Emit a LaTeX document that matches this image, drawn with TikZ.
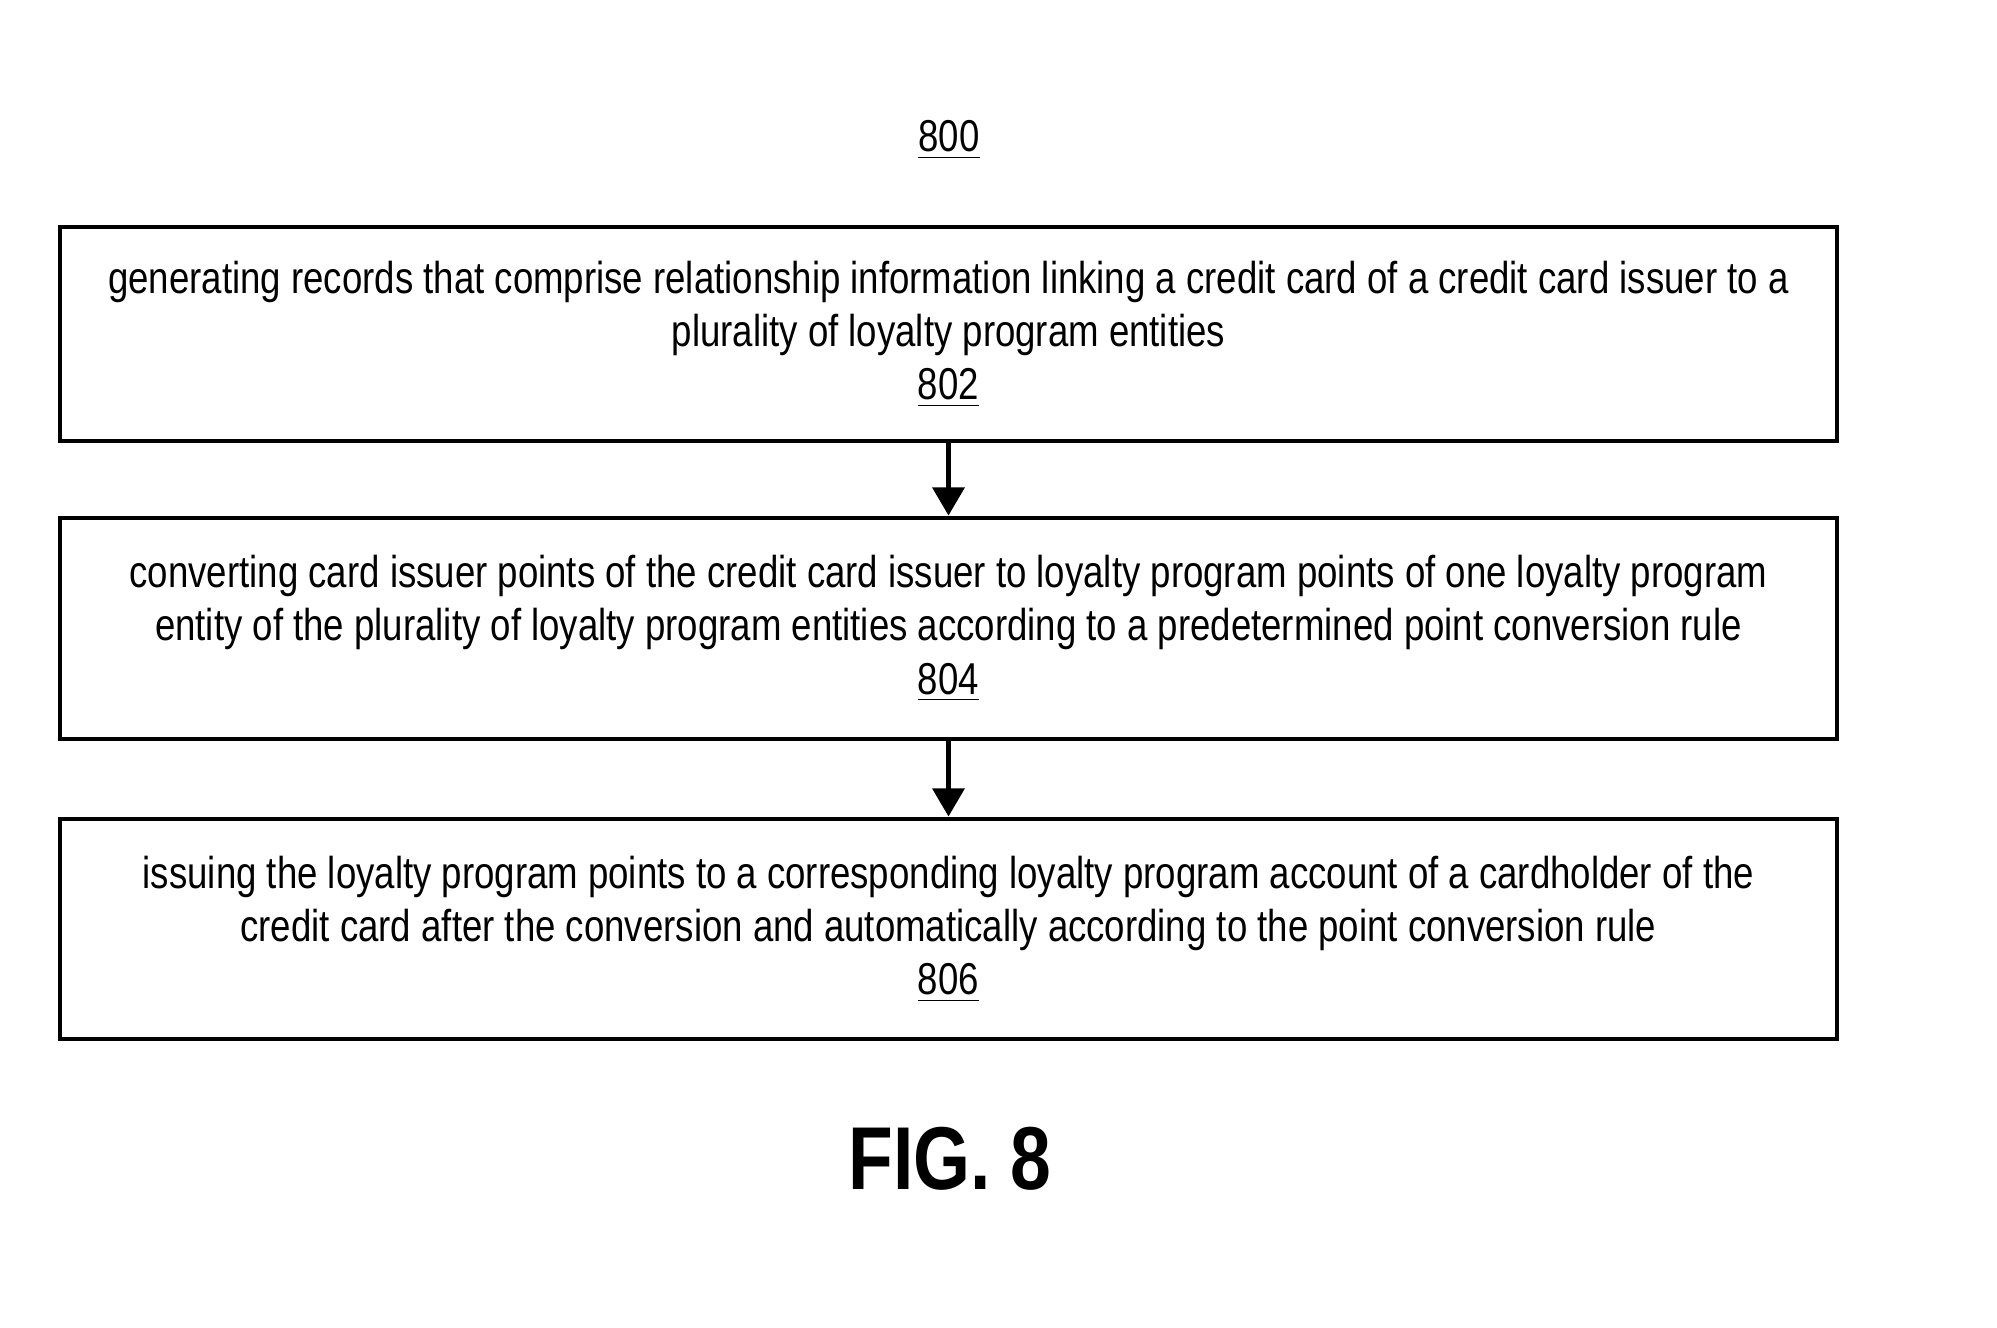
\documentclass[tikz,border=0pt]{standalone}
\usepackage{fontspec}
\setmainfont[FakeStretch=0.82]{Liberation Sans}
\usetikzlibrary{arrows.meta}
\newcommand{\refnum}[1]{\underline{#1}}
\begin{document}
\begin{tikzpicture}[
    box/.style={
        draw,
        line width=1.4pt,
        minimum width=17.77cm,
        align=center,
        font=\fontsize{12.7}{15.2}\selectfont
    },
    arrow/.style={-{Triangle[length=8pt,width=9pt]}, line width=1.3pt}
]
\useasboundingbox (0,0) rectangle (19.97,-13.28);
%==========================
% Title
%==========================
\node[font=\fontsize{12.7}{15.2}\selectfont] (title) at (9.49,-1.40) {\refnum{800}};

%==========================
% Steps
%==========================
\node[box, minimum height=2.14cm] (s802) at (9.485,-3.34)
{generating records that comprise relationship information linking a credit card of a credit card issuer to a\\
plurality of loyalty program entities\\ \refnum{802}};
\node[box, minimum height=2.21cm] (s804) at (9.485,-6.285)
{converting card issuer points of the credit card issuer to loyalty program points of one loyalty program\\
entity of the plurality of loyalty program entities according to a predetermined point conversion rule\\ \refnum{804}};
\node[box, minimum height=2.20cm] (s806) at (9.485,-9.29)
{issuing the loyalty program points to a corresponding loyalty program account of a cardholder of the\\
credit card after the conversion and automatically according to the point conversion rule\\ \refnum{806}};

\draw[arrow] (s802) -- (s804);
\draw[arrow] (s804) -- (s806);

%==========================
% Caption
%==========================
\node[font=\fontsize{25.4}{30}\selectfont\bfseries] (fig) at (9.50,-11.59) {FIG. 8};

\end{tikzpicture}
\end{document}
